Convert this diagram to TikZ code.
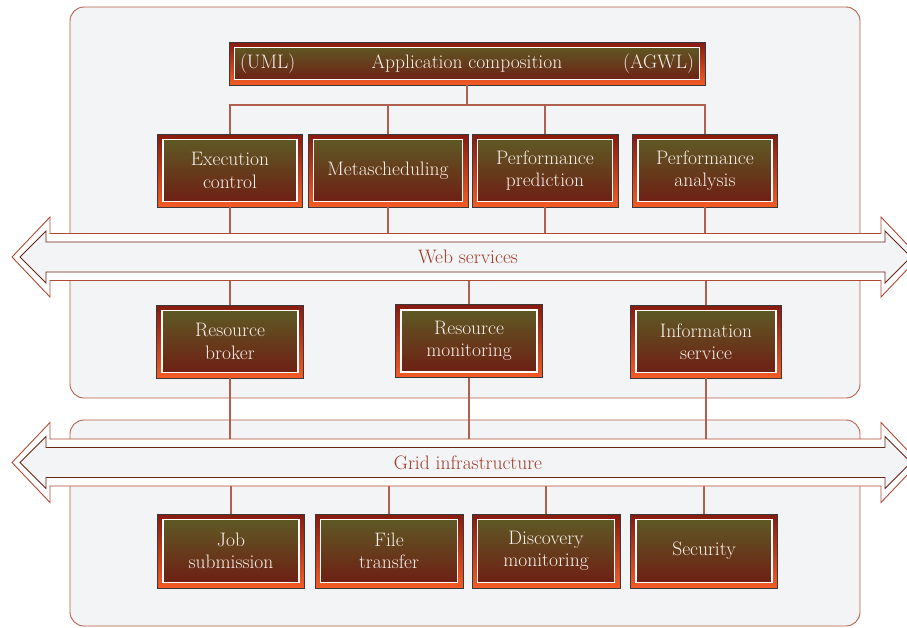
\documentclass[tikz,border=0pt]{standalone}
\usepackage{tikz}
\usetikzlibrary{calc}
\definecolor{panelfill}{HTML}{F2F4F6}
\definecolor{paneledge}{HTML}{B8604C}
\definecolor{linkcol}{HTML}{B0604E}
\definecolor{bandout}{HTML}{B04A34}
\definecolor{bandin}{HTML}{6A2418}
\definecolor{bandtext}{HTML}{A33A2A}
\definecolor{boxedge}{HTML}{3A3A3A}
\definecolor{framedark}{HTML}{861A10}
\definecolor{frameorange}{HTML}{F45C26}
\definecolor{innertop}{HTML}{5C5E26}
\definecolor{innerbot}{HTML}{701A12}
\definecolor{boxtext}{HTML}{F6F0EA}
\newcommand{\bandarrow}[1]{%
  \draw[bandouter, shift={(0,#1)}] (12,0) -- (50,-40) -- (50,-23.5) -- (881,-23.5) -- (881,-40) -- (919,0) -- (881,40) -- (881,23.5) -- (50,23.5) -- (50,40) -- cycle;
  \draw[bandinner, shift={(0,#1)}] (20,0) -- (46,-26) -- (46,-15) -- (885,-15) -- (885,-26) -- (911,0) -- (885,26) -- (885,15) -- (46,15) -- (46,26) -- cycle}

\begin{document}
\begin{tikzpicture}[x=1pt, y=-1pt,
    panel/.style={draw=paneledge, line width=0.9pt, fill=panelfill, rounded corners=14pt},
    link/.style={draw=linkcol, line width=1.2pt},
    bandouter/.style={draw=bandout, line width=0.9pt, fill=white, line join=miter},
    bandinner/.style={draw=bandin, line width=0.9pt, fill=panelfill, line join=miter},
    bandlabel/.style={text=bandtext, font=\fontsize{19.5}{22.5}\selectfont},
    boxfont/.style={text=boxtext, font=\fontsize{19.5}{22.5}\selectfont},
    modbox/.style={boxfont, draw=boxedge, line width=0.9pt, top color=framedark, bottom color=frameorange,
        minimum height=73pt, inner sep=0pt, align=center,
        path picture={\shade[top color=innertop, bottom color=innerbot, draw=white, line width=1.1pt]
            ([shift={(5.5pt,5.5pt)}]path picture bounding box.south west) rectangle
            ([shift={(-5.5pt,-5.5pt)}]path picture bounding box.north east);}}]
    \useasboundingbox (0,0) rectangle (907,627);

    % panels
    \draw[panel] (70,7) rectangle (860,398);
    \draw[panel] (70,420) rectangle (860,626);

    % boxes
    \node[modbox, minimum width=476pt, minimum height=43pt] (app) at (467,63.5) {Application composition};
    \node[boxfont, anchor=west] (uml) at ([xshift=8pt]app.west) {(UML)};
    \node[boxfont, anchor=east] (agwl) at ([xshift=-8pt]app.east) {(AGWL)};

    \node[modbox, minimum width=145pt] (exec) at (230,170.5) {Execution\\control};
    \node[modbox, minimum width=160pt] (meta) at (388,170.5) {Metascheduling};
    \node[modbox, minimum width=146pt] (perfp) at (545,170.5) {Performance\\prediction};
    \node[modbox, minimum width=145pt] (perfa) at (705,170.5) {Performance\\analysis};

    \node[modbox, minimum width=147pt] (broker) at (230,341.5) {Resource\\broker};
    \node[modbox, minimum width=147pt] (monit) at (469,341) {Resource\\monitoring};
    \node[modbox, minimum width=151pt] (info) at (706,341.5) {Information\\service};

    \node[modbox, minimum width=147pt, minimum height=74pt] (job) at (231,551) {Job\\submission};
    \node[modbox, minimum width=148pt, minimum height=74pt] (file) at (389,551) {File\\transfer};
    \node[modbox, minimum width=148pt, minimum height=74pt] (disc) at (546,551) {Discovery\\monitoring};
    \node[modbox, minimum width=147pt, minimum height=74pt] (sec) at (704,551) {Security};

    % band edges
    \coordinate (bus) at (0,105);
    \coordinate (webN) at (0,233.5);
    \coordinate (webS) at (0,280.5);
    \coordinate (gridN) at (0,439);
    \coordinate (gridS) at (0,486);

    % connectors
    \draw[link] (app.south) -- (app.south |- bus);
    \draw[link] (exec.north) -- (exec.north |- bus) -| (perfa.north);
    \draw[link] (meta.north) -- (meta.north |- bus);
    \draw[link] (perfp.north) -- (perfp.north |- bus);

    \draw[link] (exec.south) -- (exec.south |- webN);
    \draw[link] (meta.south) -- (meta.south |- webN);
    \draw[link] (perfp.south) -- (perfp.south |- webN);
    \draw[link] (perfa.south) -- (perfa.south |- webN);

    \draw[link] (broker.north |- webS) -- (broker.north);
    \draw[link] (monit.north |- webS) -- (monit.north);
    \draw[link] (info.north |- webS) -- (info.north);

    \draw[link] (broker.south) -- (broker.south |- gridN);
    \draw[link] (monit.south) -- (monit.south |- gridN);
    \draw[link] (info.south) -- (info.south |- gridN);

    \draw[link] (job.north |- gridS) -- (job.north);
    \draw[link] (file.north |- gridS) -- (file.north);
    \draw[link] (disc.north |- gridS) -- (disc.north);
    \draw[link] (sec.north |- gridS) -- (sec.north);

    % bands
    \bandarrow{257};
    \bandarrow{462.5};
    \node[bandlabel] (web) at (468,257) {Web services};
    \node[bandlabel] (grid) at (468,462.5) {Grid infrastructure};
\end{tikzpicture}
\end{document}
